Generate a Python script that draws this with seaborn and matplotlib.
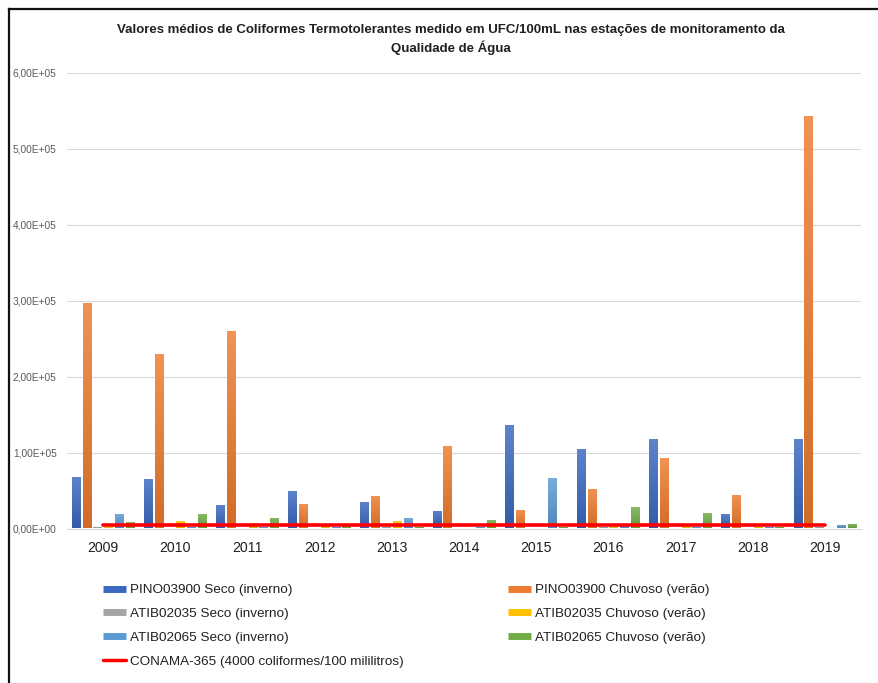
import numpy as np
import pandas as pd
import matplotlib
matplotlib.use("Agg")
import matplotlib.pyplot as plt
import matplotlib.colors as mcolors
import seaborn as sns
from matplotlib.lines import Line2D
from matplotlib.ticker import FuncFormatter, MultipleLocator

# Mean thermotolerant coliform values (UFC/100mL) per station and season
years = ["2009", "2010", "2011", "2012", "2013", "2014", "2015", "2016", "2017", "2018", "2019"]
pino_seco = [68000, 65000, 31000, 50000, 35000, 23000, 136000, 104500, 117500, 19000, 117500]
pino_chuvoso = [297000, 230000, 260000, 32000, 43000, 109000, 24000, 52000, 93000, 44000, 543000]
atib35_seco = [1800, 1200, 1200, 1200, 1500, 500, 1200, 1500, 1200, 800, 1500]
atib35_chuvoso = [1500, 10500, 7000, 3000, 9500, 500, 1200, 2500, 1500, 1500, 300]
atib65_seco = [18500, 2000, 2000, 2000, 14000, 1500, 66000, 5000, 2500, 2000, 4500]
atib65_chuvoso = [9000, 19000, 14000, 5000, 2500, 11500, 2500, 28000, 20500, 2500, 6300]
conama_limit = [4000] * len(years)

series_names = [
    "PINO03900 Seco (inverno)",
    "PINO03900 Chuvoso (verão)",
    "ATIB02035 Seco (inverno)",
    "ATIB02035 Chuvoso (verão)",
    "ATIB02065 Seco (inverno)",
    "ATIB02065 Chuvoso (verão)",
]
series_values = [pino_seco, pino_chuvoso, atib35_seco, atib35_chuvoso, atib65_seco, atib65_chuvoso]
series_colors = ["#3A68C0", "#EE7B2E", "#A5A5A5", "#FFC000", "#5B9BD5", "#70AD47"]
limit_label = "CONAMA-365 (4000 coliformes/100 mililitros)"

df = pd.DataFrame(
    [(y, name, v) for name, vals in zip(series_names, series_values) for y, v in zip(years, vals)],
    columns=["ano", "serie", "valor"],
)

sns.set_theme(style="white")
plt.rcParams["font.family"] = ["Liberation Sans", "DejaVu Sans"]

W, H = 879, 683
fig = plt.figure(figsize=(W / 100, H / 100), dpi=100)
fig.patch.set_facecolor("white")
ax = fig.add_axes([67 / W, 1 - 528.5 / H, (861 - 67) / W, (528.5 - 73) / H])

sns.barplot(
    data=df, x="ano", y="valor", hue="serie", hue_order=series_names,
    palette=series_colors, saturation=1, width=0.9, gap=0.2,
    legend=False, ax=ax, zorder=2,
)

# Vertical gradient fill on each bar: lighter at the top, deeper at the base
for bar in list(ax.patches):
    x, y = bar.get_x(), bar.get_y()
    w, h = bar.get_width(), bar.get_height()
    if h <= 0:
        continue
    base = np.array(mcolors.to_rgb(bar.get_facecolor()))
    top = base + (1 - base) * 0.18
    bottom = base * 0.88
    t = np.linspace(0, 1, 64)[:, None]
    grad = (bottom * (1 - t) + top * t)[:, None, :]
    im = ax.imshow(grad, extent=(x, x + w, y, y + h), origin="lower",
                   aspect="auto", interpolation="bilinear", zorder=1.5)
    im.set_clip_path(bar)
    bar.set_facecolor("none")
    bar.set_edgecolor("none")

# Reference limit drawn across the yearly categories
sns.lineplot(x=np.arange(len(years)), y=conama_limit, color="#FF0000", lw=2.6, ax=ax)
ax.lines[-1].set_zorder(6)

ax.set_xlim(-0.5, len(years) - 0.5)
ax.set_ylim(0, 600000)
ax.set_aspect("auto")
ax.yaxis.set_major_locator(MultipleLocator(100000))
ax.yaxis.set_major_formatter(FuncFormatter(lambda v, _: f"{v:.2E}".replace(".", ",")))
ax.set_xlabel("")
ax.set_ylabel("")
ax.grid(axis="y", color="#D9D9D9", lw=0.8, zorder=0)
ax.set_axisbelow(True)
for s in ["top", "right", "left"]:
    ax.spines[s].set_visible(False)
ax.spines["bottom"].set_color("#D9D9D9")
ax.spines["bottom"].set_linewidth(0.8)
ax.spines["bottom"].set_zorder(0.5)
ax.tick_params(axis="y", length=0, pad=7.5, labelsize=7.3, labelcolor="#595959")
ax.tick_params(axis="x", length=0, pad=9, labelsize=10.2, labelcolor="#202020")

fig.text(451 / W, 1 - 30 / H,
         "Valores médios de Coliformes Termotolerantes medido em UFC/100mL nas estações de monitoramento da",
         ha="center", va="center", fontsize=9.5, fontweight="bold", color="#202020")
fig.text(451 / W, 1 - 48 / H, "Qualidade de Água",
         ha="center", va="center", fontsize=9.5, fontweight="bold", color="#202020")

# Legend in two columns
def bar_handle(c):
    return Line2D([], [], color=c, lw=5, solid_capstyle="butt")

col1 = [(bar_handle(series_colors[0]), series_names[0]),
        (bar_handle(series_colors[2]), series_names[2]),
        (bar_handle(series_colors[4]), series_names[4]),
        (Line2D([], [], color="#FF0000", lw=2.5), limit_label)]
col2 = [(bar_handle(series_colors[1]), series_names[1]),
        (bar_handle(series_colors[3]), series_names[3]),
        (bar_handle(series_colors[5]), series_names[5])]

for items, x0 in [(col1, 103), (col2, 508)]:
    hs, ls = zip(*items)
    leg = fig.legend(hs, ls, loc="upper left", bbox_to_anchor=(x0 / W, 1 - 584 / H),
                     bbox_transform=fig.transFigure, frameon=False, fontsize=9.7,
                     handlelength=1.7, handletextpad=0.3, labelspacing=0.84,
                     borderpad=0, borderaxespad=0)
    for t in leg.get_texts():
        t.set_color("#202020")

# Outer frame (left and top edges)
fig.add_artist(Line2D([9 / W, 9 / W], [0, 1 - 9 / H], transform=fig.transFigure,
                      color="#111111", lw=1.6, solid_capstyle="projecting"))
fig.add_artist(Line2D([9 / W, 1], [1 - 9 / H, 1 - 9 / H], transform=fig.transFigure,
                      color="#111111", lw=1.6, solid_capstyle="projecting"))

fig.savefig("out.png", dpi=100)
